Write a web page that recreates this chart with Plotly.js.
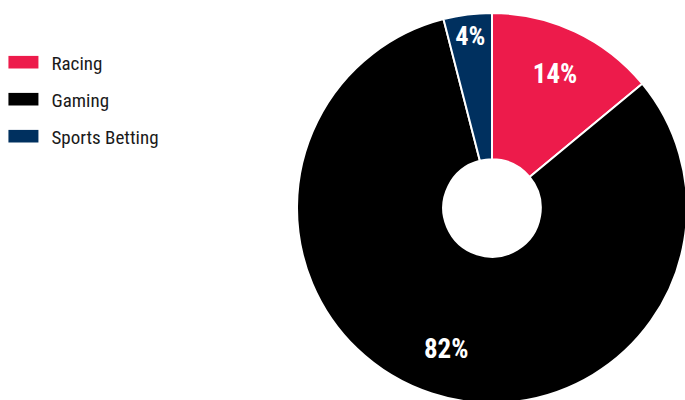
<!DOCTYPE html>
<html><head><meta charset="utf-8">
<script src="https://cdn.plot.ly/plotly-3.0.1.min.js"></script>
<style>html,body{margin:0;padding:0;overflow:hidden;background:#fff}</style>
</head><body>
<div id="chart"></div>
<script>
const categories = ["Racing", "Gaming", "Sports Betting"];
const values = [14, 82, 4];
const colors = ["#ED1B4B", "#000000", "#00305F"];

const FONT = "Roboto Condensed, Roboto, sans-serif";
const dom = {x: [0.4323, 1], y: [0, 1]};

const slices = {
  type: "pie",
  labels: categories,
  values: values,
  hole: 0.25,
  sort: false,
  direction: "clockwise",
  rotation: 0,
  marker: {colors: colors, line: {color: "#ffffff", width: 2}},
  textinfo: "none",
  domain: dom,
  hoverinfo: "none"
};

const labelsRing = {
  type: "pie",
  labels: categories,
  values: values,
  hole: 0.52,
  sort: false,
  direction: "clockwise",
  rotation: 0,
  showlegend: false,
  marker: {colors: ["rgba(0,0,0,0)", "rgba(0,0,0,0)", "rgba(0,0,0,0)"], line: {width: 0}},
  texttemplate: "%{percent:.0%}",
  textposition: "inside",
  insidetextorientation: "horizontal",
  insidetextfont: {family: FONT, size: 27, color: "#ffffff", weight: "bold"},
  domain: dom,
  hoverinfo: "none"
};

const layout = {
  width: 687, height: 403,
  margin: {l: 0, r: 0, t: 13, b: 0, pad: 0},
  paper_bgcolor: "#ffffff",
  showlegend: true,
  legend: {x: 0.005, y: 1.02, xanchor: "left", yanchor: "top",
           font: {family: FONT, size: 19, color: "#1a1a1a"},
           bgcolor: "rgba(0,0,0,0)"},
  font: {family: FONT}
};

Plotly.newPlot("chart", [slices, labelsRing], layout, {displayModeBar: false, staticPlot: true}).then(function(gd){
  const sb = gd.querySelector(".legend .scrollbox");
  if (sb) sb.removeAttribute("clip-path");
  const items = gd.querySelectorAll(".legend .traces");
  items.forEach(function(it, i){
    it.setAttribute("transform", "translate(0," + (i * 37 + 57) + ")");
    const p = it.querySelector("path.legendpie");
    if (p) { p.setAttribute("d", "M15,6.3H-15V-6.3H15Z"); p.style.strokeWidth = "0"; }
    const t = it.querySelector("text.legendtext");
    if (t) t.setAttribute("x", 48);
  });
});
</script>
</body></html>
